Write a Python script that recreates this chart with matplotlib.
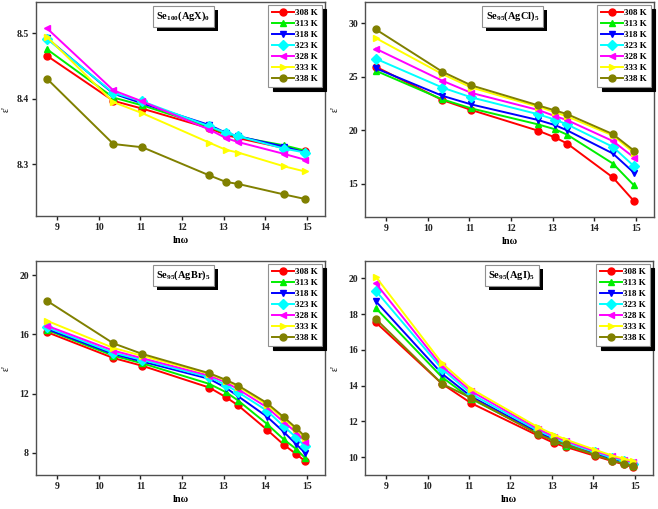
import matplotlib
matplotlib.use("Agg")
import matplotlib.pyplot as plt
import matplotlib.patheffects as pe

plt.rcParams['font.family'] = ['Liberation Serif', 'DejaVu Serif']
plt.rcParams['font.weight'] = 'bold'
plt.rcParams['mathtext.fontset'] = 'custom'
plt.rcParams['mathtext.rm'] = 'Liberation Serif:bold'
plt.rcParams['mathtext.it'] = 'Liberation Serif:bold'
plt.rcParams['mathtext.bf'] = 'Liberation Serif:bold'

# ln(omega) values
lnw8 = [8.75, 10.35, 11.05, 12.66, 13.06, 13.35, 14.45, 14.96]
lnw10 = [8.75, 10.35, 11.05, 12.66, 13.06, 13.35, 14.04, 14.45, 14.74, 14.96]

temps = ['308 K', '313 K', '318 K', '323 K', '328 K', '333 K', '338 K']
colors = ['#ff0000', '#00ee00', '#0000ff', '#00ffff', '#ff00ff', '#ffff00', '#808000']
markers = ['o', '^', 'v', 'D', '<', '>', 'o']

# Se100(AgX)0
eps_agx = [
    [8.466, 8.397, 8.385, 8.355, 8.345, 8.340, 8.325, 8.320],
    [8.476, 8.402, 8.390, 8.357, 8.347, 8.342, 8.329, 8.321],
    [8.493, 8.408, 8.393, 8.360, 8.348, 8.343, 8.327, 8.318],
    [8.492, 8.409, 8.396, 8.358, 8.348, 8.343, 8.324, 8.318],
    [8.508, 8.413, 8.396, 8.353, 8.340, 8.334, 8.316, 8.307],
    [8.495, 8.395, 8.378, 8.333, 8.322, 8.318, 8.297, 8.289],
    [8.431, 8.331, 8.326, 8.283, 8.273, 8.270, 8.254, 8.247],
]

# Se95(AgCl)5
eps_agcl = [
    [25.95, 22.83, 21.90, 19.96, 19.34, 18.77, 15.60, 13.38],
    [25.57, 22.90, 22.05, 20.55, 20.10, 19.60, 16.90, 14.85],
    [25.80, 23.23, 22.42, 20.96, 20.49, 20.00, 17.84, 16.03],
    [26.70, 24.00, 23.08, 21.50, 21.00, 20.55, 18.46, 16.65],
    [27.63, 24.64, 23.50, 21.90, 21.33, 20.96, 19.00, 17.46],
    [28.63, 25.26, 24.00, 22.20, 21.70, 21.30, 19.52, 17.90],
    [29.44, 25.48, 24.20, 22.33, 21.86, 21.52, 19.65, 18.10],
]

# Se95(AgBr)5
eps_agbr = [
    [16.15, 14.40, 13.87, 12.40, 11.75, 11.20, 9.57, 8.54, 7.93, 7.44],
    [16.30, 14.56, 14.04, 12.65, 12.09, 11.53, 9.96, 8.90, 8.27, 7.66],
    [16.36, 14.67, 14.16, 12.99, 12.38, 11.82, 10.45, 9.40, 8.60, 8.00],
    [16.47, 14.76, 14.27, 13.10, 12.58, 12.09, 10.85, 9.78, 9.06, 8.43],
    [16.58, 14.90, 14.38, 13.21, 12.76, 12.29, 11.08, 10.07, 9.40, 8.76],
    [16.92, 15.08, 14.54, 13.33, 12.88, 12.47, 11.26, 10.29, 9.62, 9.01],
    [18.27, 15.39, 14.67, 13.37, 12.92, 12.54, 11.37, 10.40, 9.69, 9.10],
]

# Se95(AgI)5
eps_agi = [
    [17.54, 14.10, 13.02, 11.21, 10.78, 10.56, 10.07, 9.78, 9.59, 9.44],
    [18.34, 14.47, 13.26, 11.34, 10.90, 10.65, 10.15, 9.85, 9.66, 9.52],
    [18.72, 14.66, 13.39, 11.40, 10.97, 10.70, 10.22, 9.90, 9.72, 9.59],
    [19.31, 14.93, 13.54, 11.49, 11.08, 10.78, 10.28, 9.96, 9.78, 9.63],
    [19.72, 15.07, 13.69, 11.58, 11.15, 10.89, 10.33, 10.04, 9.85, 9.72],
    [20.09, 15.25, 13.82, 11.68, 11.25, 10.97, 10.41, 10.09, 9.91, 9.78],
    [17.73, 14.10, 13.31, 11.30, 10.90, 10.71, 10.13, 9.81, 9.63, 9.50],
]

W, H = 658, 509
fig = plt.figure(figsize=(W / 100, H / 100), dpi=100)

panels = [
    # (left, top, right, bottom) in px, x data, y data, title, ylim, yticks
    ((36, 2, 325, 216), lnw8, eps_agx, 'Se$_{100}$(AgX)$_0$', (8.221, 8.548), [8.3, 8.4, 8.5]),
    ((365, 2, 654, 217), lnw8, eps_agcl, 'Se$_{95}$(AgCl)$_5$', (11.9, 32.0), [15, 20, 25, 30]),
    ((36, 261, 325, 475), lnw10, eps_agbr, 'Se$_{95}$(AgBr)$_5$', (6.5, 20.95), [8, 12, 16, 20]),
    ((365, 261, 653, 475), lnw10, eps_agi, 'Se$_{95}$(AgI)$_5$', (9.0, 20.97), [10, 12, 14, 16, 18, 20]),
]

for (l, t, r, b), xs, ys, title, ylim, yticks in panels:
    ax = fig.add_axes([l / W, 1 - b / H, (r - l) / W, (b - t) / H])
    for k in range(len(temps)):
        ax.plot(xs, ys[k], color=colors[k], marker=markers[k], ms=5, lw=1.4,
                label=temps[k])
    ax.set_xlim(8.49, 15.44)
    ax.set_ylim(*ylim)
    ax.set_xticks([9, 10, 11, 12, 13, 14, 15])
    ax.set_yticks(yticks)
    if yticks[0] == 8.3:
        ax.set_yticklabels(['8.3', '8.4', '8.5'])
    for s in ax.spines.values():
        s.set_color('#505050')
        s.set_linewidth(1.0)
    ax.tick_params(direction='out', length=3, width=1, labelsize=7, pad=2,
                   top=False, right=False, colors='#202020')
    for lab in ax.get_xticklabels() + ax.get_yticklabels():
        lab.set_fontweight('bold')
    ax.set_xlabel('ln\u03c9', fontsize=7.5, fontweight='bold', labelpad=3)
    ax.set_ylabel("\u03b5'", fontsize=7)
    ax.yaxis.set_label_coords(-0.088, 0.5)

    leg = ax.legend(loc='upper right', frameon=True, fancybox=False,
                    edgecolor='#909090', handlelength=2.4, handletextpad=0.2,
                    labelspacing=0.3, borderpad=0.4, borderaxespad=0.35,
                    prop={'weight': 'bold', 'size': 6.5},
                    shadow={'color': 'black', 'alpha': 1, 'ox': 3, 'oy': -3})
    leg.get_frame().set_linewidth(0.8)

    txt = ax.text(0.51, 0.965, title, transform=ax.transAxes, ha='center', va='top',
                  fontsize=7.5, fontweight='bold',
                  bbox=dict(boxstyle='square,pad=0.35', fc='white', ec='#909090', lw=0.8))
    txt.get_bbox_patch().set_path_effects([
        pe.SimplePatchShadow(offset=(3, -3), shadow_rgbFace='black', alpha=1),
        pe.Normal()])

fig.savefig('out.png', dpi=100)
